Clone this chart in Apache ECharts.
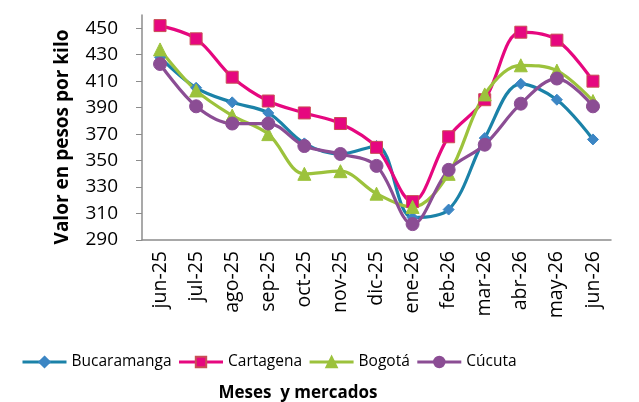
<!DOCTYPE html>
<html>
<head>
<meta charset="utf-8">
<script src="https://cdn.jsdelivr.net/npm/echarts@6/dist/echarts.min.js"></script>
<style>
html,body{margin:0;padding:0;background:#fff;}
#chart{width:639px;height:402px;}
</style>
</head>
<body>
<div id="chart"></div>
<script>
var categories = ['jun-25','jul-25','ago-25','sep-25','oct-25','nov-25','dic-25','ene-26','feb-26','mar-26','abr-26','may-26','jun-26'];
var bucaramanga = [428,405,394,386,363,355,361,307,313,367,408,396,366];
var cartagena   = [452,442,413,395,386,378,360,319,368,396,447,441,410];
var bogota      = [434,403,384,370,340,342,325,315,340,400,422,418,395];
var cucuta      = [423,391,378,378,361,355,346,302,343,362,393,412,391];
var yTicks = [290,310,330,350,370,390,410,430,450];

var FONT = '"Open Sans", "Noto Sans", sans-serif';
var chart = echarts.init(document.getElementById('chart'), null, {renderer:'canvas'});

function mk(name, data, color, symbol, size, fill, border) {
  return {
    name: name, type: 'line', data: data, smooth: 0.35,
    symbol: symbol, symbolSize: size, showAllSymbol: true,
    lineStyle: {color: color, width: 3.2},
    itemStyle: {color: fill, borderColor: border, borderWidth: 1},
    emphasis: {disabled: true}
  };
}

chart.setOption({
  animation: false,
  textStyle: {fontFamily: FONT},
  grid: {left: 142, right: 28, top: 15, bottom: 162, containLabel: false},
  legend: {
    left: 16, top: 349, itemWidth: 44, itemHeight: 13, itemGap: 6,
    lineStyle: {width: 3},
    textStyle: {fontFamily: FONT, fontSize: 15.5, color: '#000'},
    data: ['Bucaramanga','Cartagena','Bogotá','Cúcuta']
  },
  xAxis: {
    type: 'category', data: categories, boundaryGap: true,
    axisLine: {lineStyle: {color: '#8c8c8c', width: 1.5}},
    axisTick: {show: false},
    axisLabel: {rotate: 90, margin: 11, fontFamily: FONT, fontSize: 19.5, color: '#000', interval: 0}
  },
  yAxis: {
    type: 'value', min: 290, max: 460,
    splitLine: {show: false},
    axisLine: {show: true, lineStyle: {color: '#8c8c8c', width: 1.5}},
    axisTick: {show: true, length: 6, customValues: yTicks, lineStyle: {color: '#8c8c8c'}},
    axisLabel: {customValues: yTicks, margin: 24, fontFamily: FONT, fontSize: 19, color: '#000'}
  },
  graphic: [
    {type: 'text', x: 63, y: 137, rotation: Math.PI/2,
     style: {text: 'Valor en pesos por kilo', fontFamily: FONT, fontSize: 19, fontWeight: 'bold', fill: '#000', align: 'center', verticalAlign: 'middle'}},
    {type: 'text', x: 298, y: 393,
     style: {text: 'Meses  y mercados', fontFamily: FONT, fontSize: 17, fontWeight: 'bold', fill: '#000', align: 'center', verticalAlign: 'middle'}}
  ],
  series: [
    mk('Bucaramanga', bucaramanga, '#1B82A8', 'diamond', 11, '#3C86C4', '#3C86C4'),
    mk('Cartagena', cartagena, '#E6077F', 'rect', 12, '#E6077F', '#C94F55'),
    mk('Bogotá', bogota, '#9CC23C', 'triangle', 13, '#9CC23C', '#9CC23C'),
    mk('Cúcuta', cucuta, '#8B4D94', 'circle', 13, '#8B4D94', '#8B4D94')
  ]
});
</script>
</body>
</html>
